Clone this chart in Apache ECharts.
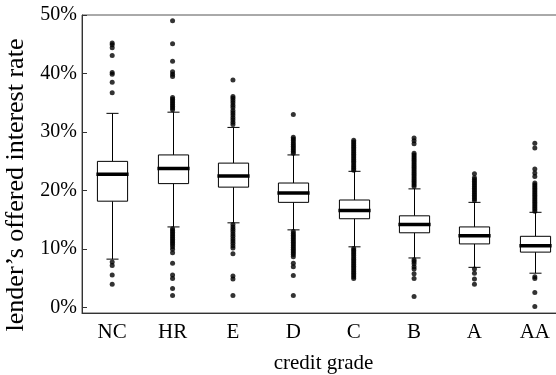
<!DOCTYPE html>
<html>
<head>
<meta charset="utf-8">
<script src="https://cdn.jsdelivr.net/npm/echarts@6/dist/echarts.min.js"></script>
<style>
  html, body { margin: 0; padding: 0; background: #fff; }
  #chart { width: 556px; height: 375px; }
</style>
</head>
<body>
<div id="chart"></div>
<script>
const grades = ["NC", "HR", "E", "D", "C", "B", "A", "AA"];
const yTicks = [0, 10, 20, 30, 40, 50];

// [lower whisker, q1, median, q3, upper whisker] in %
const boxNC = [8.3, 18.2, 22.8, 25.0, 33.2];
const boxHR = [13.8, 21.2, 23.8, 26.1, 33.4];
const boxE = [14.5, 20.6, 22.5, 24.7, 30.8];
const boxD = [13.3, 18.0, 19.6, 21.3, 26.1];
const boxC = [10.4, 15.2, 16.6, 18.4, 23.3];
const boxB = [8.5, 12.8, 14.2, 15.7, 20.3];
const boxA = [6.9, 10.9, 12.3, 13.8, 18.0];
const boxAA = [5.9, 9.5, 10.6, 12.2, 16.3];

// outliers per grade
const outNC = [45.2, 44.9, 44.4, 43.1, 40.2, 39.9, 38.5, 36.7, 7.8, 7.2, 5.6, 4.0];
const outHR = [49.0, 45.1, 42.1, 40.3, 39.9, 39.5, 35.9, 35.6, 35.3, 35.0, 34.7, 34.4, 34.1, 33.8,
  13.5, 13.2, 12.9, 12.6, 12.3, 12.0, 11.7, 11.4, 11.1, 10.8, 10.4, 10.0, 9.4, 7.6, 5.6, 5.0, 3.3, 2.1];
const outE = [38.9, 36.1, 35.8, 35.4, 35.0, 34.6, 34.2, 33.7, 33.3, 32.9, 32.5, 32.1, 31.7, 31.3,
  14.2, 13.8, 13.4, 13.0, 12.6, 12.2, 11.8, 11.4, 11.0, 10.6, 10.2, 9.2, 5.4, 4.9, 2.1];
const outD = [33.0, 29.1, 28.8, 28.5, 28.2, 27.9, 27.6, 27.3, 27.0, 26.7, 26.4,
  13.0, 12.7, 12.4, 12.1, 11.8, 11.5, 11.2, 10.9, 10.6, 10.3, 10.0, 9.7, 9.4, 9.1, 8.7, 7.6, 7.0, 5.5, 2.1];
const outC = [28.6, 28.3, 28.0, 27.7, 27.4, 27.1, 26.8, 26.5, 26.2, 25.9, 25.6, 25.3, 25.0, 24.7, 24.4, 24.1, 23.8, 23.5,
  10.1, 9.8, 9.5, 9.2, 8.9, 8.6, 8.3, 8.0, 7.7, 7.4, 7.1, 6.8, 6.5, 6.2, 5.9, 5.6, 5.3, 5.0];
const outB = [29.0, 28.5, 28.0, 26.4, 26.1, 25.8, 25.5, 25.2, 24.9, 24.6, 24.3, 24.0, 23.7, 23.4, 23.1, 22.8,
  22.5, 22.2, 21.9, 21.6, 21.3, 21.0, 20.7, 8.2, 7.9, 7.5, 7.0, 6.6, 5.8, 5.0, 1.9];
const outA = [22.9, 22.2, 21.9, 21.6, 21.3, 21.0, 20.7, 20.4, 20.1, 19.8, 19.5, 19.2, 18.9, 18.6, 18.3,
  6.6, 5.9, 4.9, 4.0];
const outAA = [28.1, 27.3, 23.7, 23.0, 22.4, 21.3, 21.0, 20.7, 20.4, 20.1, 19.8, 19.5, 19.2, 18.9, 18.6,
  18.3, 18.0, 17.7, 17.4, 17.1, 16.8, 16.5, 5.3, 5.0, 2.6, 0.2];

const boxes = [boxNC, boxHR, boxE, boxD, boxC, boxB, boxA, boxAA];
const outliers = [outNC, outHR, outE, outD, outC, outB, outA, outAA];

const serif = "Liberation Serif, Times New Roman, serif";
const axisColor = "#333";

const boxData = boxes.map((b, i) => [i].concat(b));
const outlierData = [];
outliers.forEach((list, i) => list.forEach((v) => outlierData.push([i, v])));

function renderBox(params, api) {
  const i = api.value(0);
  const pLow = api.coord([i, api.value(1)]);
  const pQ1 = api.coord([i, api.value(2)]);
  const pMed = api.coord([i, api.value(3)]);
  const pQ3 = api.coord([i, api.value(4)]);
  const pHigh = api.coord([i, api.value(5)]);
  const band = api.size([1, 0])[0];
  const x = Math.round(pMed[0]) + 0.5;
  const halfBox = band * 0.25;
  const halfCap = band * 0.1;
  const line = { stroke: "#000", lineWidth: 1 };
  return {
    type: "group",
    children: [
      { type: "line", shape: { x1: x, y1: pLow[1], x2: x, y2: pQ1[1] }, style: line },
      { type: "line", shape: { x1: x, y1: pQ3[1], x2: x, y2: pHigh[1] }, style: line },
      { type: "line", shape: { x1: x - halfCap, y1: pLow[1], x2: x + halfCap, y2: pLow[1] }, style: line },
      { type: "line", shape: { x1: x - halfCap, y1: pHigh[1], x2: x + halfCap, y2: pHigh[1] }, style: line },
      {
        type: "rect",
        shape: { x: x - halfBox, y: pQ3[1], width: halfBox * 2, height: pQ1[1] - pQ3[1] },
        style: { fill: "#fff", stroke: "#000", lineWidth: 1 }
      },
      {
        type: "line",
        shape: { x1: x - halfBox - 1, y1: pMed[1], x2: x + halfBox + 1, y2: pMed[1] },
        style: { stroke: "#000", lineWidth: 3.5 }
      }
    ]
  };
}

const chart = echarts.init(document.getElementById("chart"));
chart.setOption({
  backgroundColor: "#fff",
  animation: false,
  grid: {
    left: 82, right: -9, top: 15, bottom: 62,
    containLabel: false,
    outerBoundsMode: "none",
    show: true, borderColor: "#555", borderWidth: 1, backgroundColor: "transparent"
  },
  xAxis: {
    type: "category",
    data: grades,
    boundaryGap: true,
    name: "credit grade",
    nameLocation: "middle",
    nameGap: 40,
    nameTextStyle: { fontFamily: serif, fontSize: 21, color: "#000" },
    axisLine: { onZero: false, lineStyle: { color: axisColor, width: 1 } },
    axisTick: { inside: true, length: 5, alignWithLabel: true, lineStyle: { color: axisColor } },
    axisLabel: { fontFamily: serif, fontSize: 21, color: "#000", margin: 9 },
    splitLine: { show: false }
  },
  yAxis: {
    type: "value",
    min: -0.9,
    max: 50,
    name: "lender\u2019s offered interest rate",
    nameLocation: "middle",
    nameGap: 53,
    nameRotate: 90,
    nameTextStyle: { fontFamily: serif, fontSize: 26, color: "#000", padding: [0, 42, 0, 0] },
    axisLine: { show: true, onZero: false, lineStyle: { color: axisColor, width: 1 } },
    axisTick: { show: true, inside: true, length: 5, customValues: yTicks, lineStyle: { color: axisColor } },
    axisLabel: {
      fontFamily: serif, fontSize: 20, color: "#000", margin: 5,
      customValues: yTicks,
      formatter: (v) => v + "%"
    },
    splitLine: { show: false }
  },
  series: [
    {
      type: "custom",
      data: boxData,
      renderItem: renderBox,
      encode: { x: 0, y: [1, 2, 3, 4, 5] },
      z: 2
    },
    {
      type: "scatter",
      data: outlierData,
      symbol: "circle",
      symbolSize: 5,
      itemStyle: { color: "#000" },
      z: 3
    }
  ]
});
</script>
</body>
</html>
